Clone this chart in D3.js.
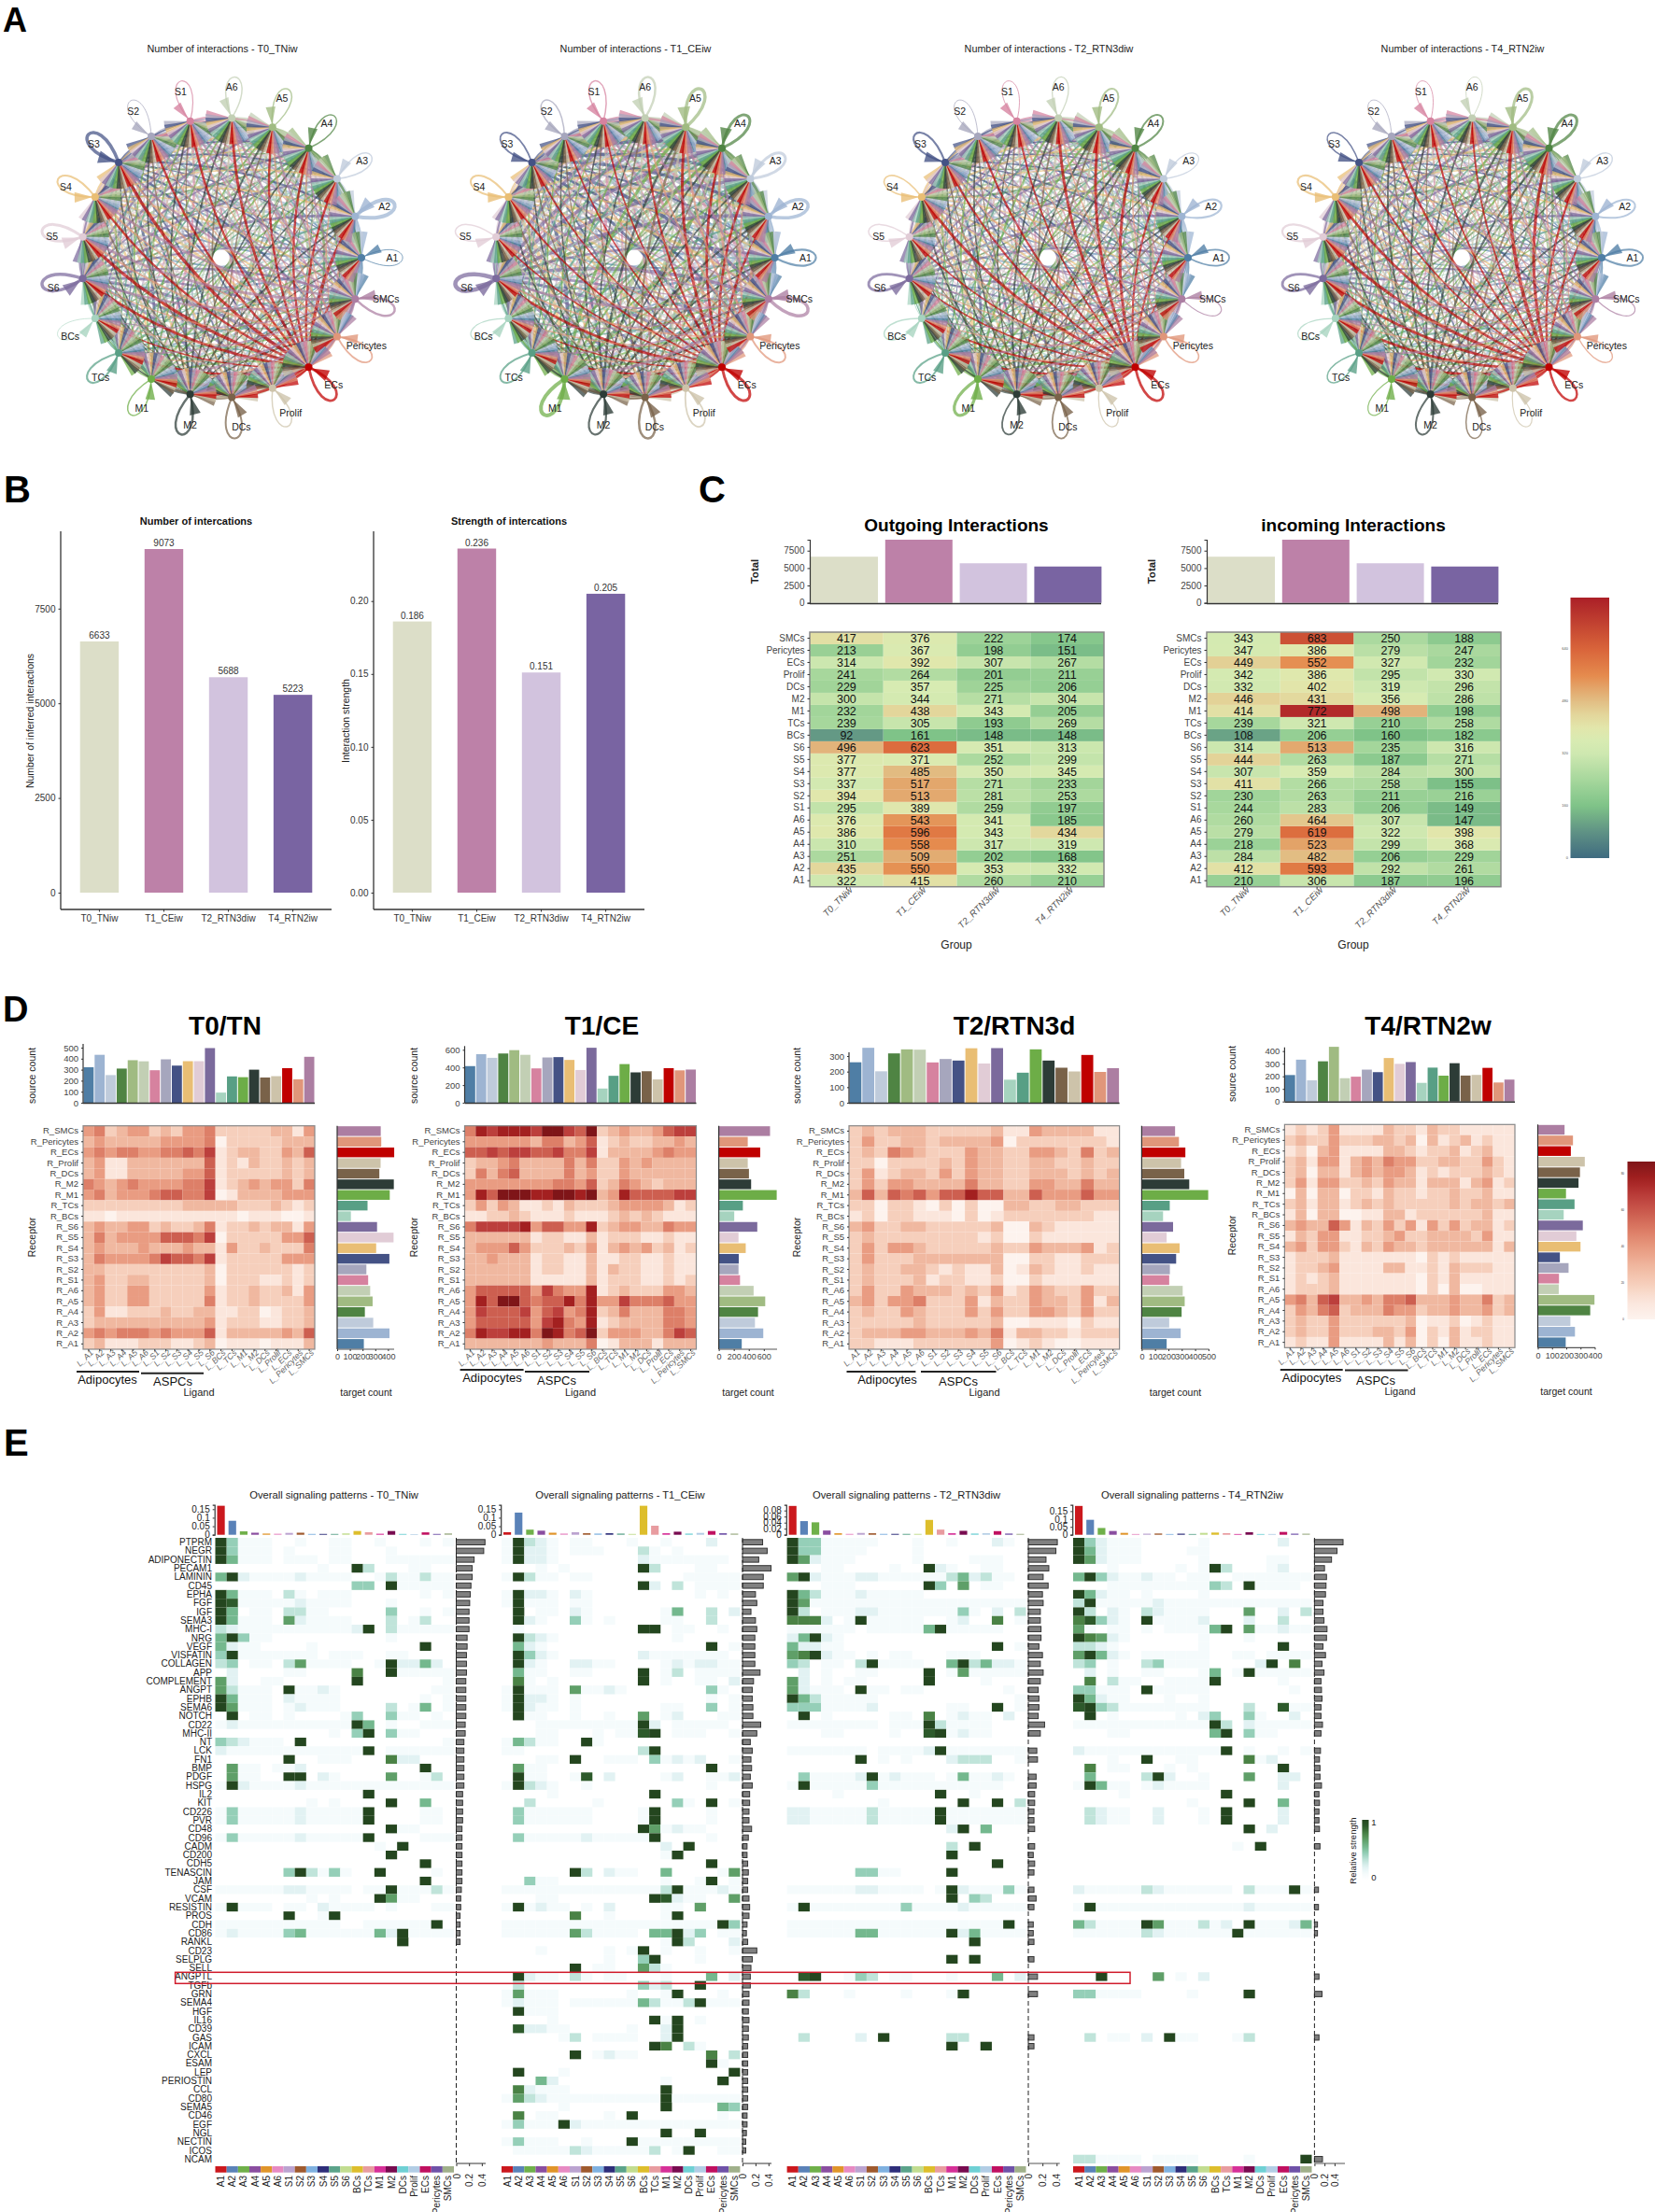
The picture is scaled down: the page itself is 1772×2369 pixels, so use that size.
<!DOCTYPE html>
<html lang="en">
<head>
<meta charset="UTF-8">
<title>Cell-cell communication overview</title>
<script src="https://d3js.org/d3.v7.min.js"></script>
<style>
  body { margin: 0; background: #fff; }
  text { font-family: "Liberation Sans", Arial, sans-serif; }
</style>
</head>
<body>
<script>
// ---------- data ----------
const groups = ["T0_TNiw", "T1_CEiw", "T2_RTN3diw", "T4_RTN2iw"];
const groupColors = ["#dcdec8", "#bd81a8", "#d2c3de", "#7964a2"];
const interactionCount = [6633, 9073, 5688, 5223];
const interactionStrength = [0.186, 0.236, 0.151, 0.205];

const cells = ["A1","A2","A3","A4","A5","A6","S1","S2","S3","S4","S5","S6","BCs","TCs","M1","M2","DCs","Prolif","ECs","Pericytes","SMCs"];
const cellColors = ["#4f7ea5","#9db4d2","#bfcbdb","#4f8443","#a0bb82","#c2cfb4","#d6829f","#a6a6bd","#445285","#e9be74","#e1ccd6","#7b6a9c","#a6d3bf","#589f85","#6dad47","#2d3c37","#796249","#cdc3aa","#c00000","#e0967a","#ac7ea2"];
const patternColors = ["#cb181d","#5a82b8","#6fb04a","#8a4ea0","#e0952a","#e78ac3","#bba3d0","#9f5a2e","#7fb1e0","#2e2e7a","#5ba38a","#c2dd90","#ddbe2c","#e89ca0","#d63098","#780b50","#6fd0d4","#b2cde5","#c01060","#6f52a8","#a0b08a"];

// outgoing / incoming totals, in the order of cells
const outgoingT0 = [322,435,251,310,386,376,295,394,337,377,377,496,92,239,232,300,229,241,314,213,417];
const outgoingT1 = [415,550,509,558,596,543,389,513,517,485,371,623,161,305,438,344,357,264,392,367,376];
const outgoingT2 = [260,353,202,317,343,341,259,281,271,350,252,351,148,193,343,271,225,201,307,198,222];
const outgoingT4 = [210,332,168,319,434,185,197,253,233,345,299,313,148,269,205,304,206,211,267,151,174];
const incomingT0 = [210,412,284,218,279,260,244,230,411,307,444,314,108,239,414,446,332,342,449,347,343];
const incomingT1 = [306,593,482,523,619,464,283,263,266,359,263,513,206,321,772,431,402,386,552,386,683];
const incomingT2 = [187,292,206,299,322,307,206,211,258,284,187,235,160,210,498,356,319,295,327,279,250];
const incomingT4 = [196,261,229,368,398,147,149,216,155,300,271,316,182,258,198,286,296,330,232,247,188];

// ligand x receptor heat levels (0-9). rows run R_SMCs .. R_A1, columns follow cells
const levelsT0 = [
 [4,5,2,3,4,4,2,3,2,4,4,5,2,2,2,2,2,3,3,1,4],[3,4,3,3,3,3,3,4,4,4,4,5,0,2,2,2,2,2,3,3,3],
 [4,5,4,5,5,4,4,5,5,6,5,7,1,2,3,3,2,2,4,3,6],[3,4,1,1,3,3,3,3,3,3,3,6,1,2,1,3,2,2,3,2,3],
 [3,4,1,1,3,3,3,3,3,4,4,6,1,2,2,2,2,2,3,2,3],[5,4,3,4,5,4,4,4,4,5,5,7,1,2,3,4,3,4,4,2,5],
 [4,5,3,4,4,4,5,6,6,5,5,7,0,1,3,3,3,3,4,4,4],[2,2,2,2,2,2,2,2,2,3,3,3,3,3,2,2,2,3,2,1,2],
 [1,1,0,1,1,1,1,1,1,1,1,1,1,1,0,1,1,1,0,0,1],[3,4,3,3,4,4,2,3,2,2,3,5,1,2,2,3,2,3,3,1,4],
 [3,5,3,4,4,4,4,6,6,6,5,7,0,2,2,2,2,2,4,4,6],[3,4,3,3,3,4,3,3,3,4,3,3,1,4,2,2,3,2,2,2,5],
 [3,5,4,4,4,4,5,7,6,6,5,7,1,2,2,2,2,2,4,4,4],[3,3,2,2,2,2,2,2,2,2,2,3,0,2,2,2,2,2,2,1,2],
 [3,4,2,2,3,3,2,2,2,2,2,3,0,2,2,2,1,1,2,1,2],[3,4,2,2,4,4,2,2,2,2,2,4,1,2,2,3,2,2,3,1,4],
 [3,4,2,2,4,4,2,2,2,2,2,5,1,2,2,3,2,2,2,2,4],[2,4,1,1,2,2,2,3,2,2,3,3,1,1,2,2,0,1,2,2,3],
 [2,3,3,3,3,3,3,3,3,3,3,4,1,2,2,2,1,1,2,2,3],[4,5,4,5,5,5,4,5,4,4,4,6,1,3,3,3,3,3,4,3,6],
 [2,3,1,1,1,2,2,2,1,1,2,3,0,1,1,1,0,1,1,1,3]];
const levelsT1 = [
 [5,8,7,8,8,8,7,9,9,7,6,9,2,3,4,3,3,4,6,7,7],[4,4,4,4,4,4,3,5,5,3,4,6,1,2,3,2,2,3,3,4,3],
 [6,6,7,6,7,7,6,6,7,5,5,7,1,3,3,3,3,4,5,4,4],[2,3,3,4,5,3,3,3,3,5,3,5,2,2,4,3,4,3,3,3,3],
 [2,5,3,5,6,3,3,3,3,5,3,4,2,2,4,3,3,3,3,3,3],[4,4,4,4,4,4,4,4,5,5,4,6,2,3,5,4,3,2,3,3,3],
 [4,8,6,9,9,9,8,8,9,9,8,9,3,4,8,6,6,6,6,7,7],[2,4,2,4,3,1,1,2,1,3,2,2,2,3,4,4,4,4,3,1,2],
 [1,1,2,2,3,2,1,1,1,2,1,1,1,2,3,2,3,2,1,1,1],[5,7,7,7,7,8,4,6,6,4,4,8,2,3,4,4,3,3,5,4,4],
 [3,3,3,3,3,3,1,2,2,1,1,3,1,2,2,2,1,1,2,1,1],[3,4,4,4,6,4,2,2,2,3,2,4,1,3,4,3,4,2,3,1,2],
 [3,3,4,3,3,3,1,2,2,1,1,3,1,1,2,2,1,1,2,1,1],[3,3,3,3,3,3,1,2,2,1,1,3,1,3,2,2,1,1,2,1,1],
 [3,3,3,3,3,3,1,1,1,1,1,3,1,2,2,2,1,1,2,1,2],[4,6,6,6,6,6,4,7,5,4,4,8,1,2,3,2,2,2,4,4,3],
 [4,8,6,9,9,6,5,6,6,8,5,8,4,4,7,5,5,5,6,4,4],[4,7,6,6,6,7,4,6,7,4,5,8,2,3,5,3,3,3,5,5,4],
 [4,6,6,6,6,6,4,7,8,5,4,8,1,2,3,3,3,3,5,5,4],[5,8,7,7,8,8,5,9,8,5,6,9,2,4,4,4,3,3,5,7,6],
 [3,3,3,3,3,3,3,4,3,3,3,5,0,1,3,3,3,1,3,3,3]];
const levelsT2 = [
 [2,3,2,3,3,3,2,2,2,2,2,3,1,1,4,3,3,3,3,1,1],[2,4,2,2,3,3,2,3,3,3,3,4,0,2,2,2,2,2,2,2,1],
 [2,3,2,5,4,3,2,2,2,4,3,3,2,2,4,4,3,2,5,2,3],[2,2,0,2,2,2,2,3,2,4,3,3,2,2,3,3,2,2,3,2,2],
 [2,4,1,2,3,3,2,4,2,4,3,3,2,2,3,3,3,2,3,2,3],[2,4,2,4,4,3,3,3,3,5,3,3,2,2,4,4,3,3,5,3,3],
 [3,6,3,6,5,6,4,6,6,8,6,6,3,3,6,4,4,4,6,4,4],[2,2,0,2,2,1,0,2,0,2,0,0,3,3,2,2,3,3,2,2,2],
 [1,2,0,2,2,1,1,1,0,2,0,1,2,2,2,2,2,2,2,1,1],[3,4,2,2,3,3,2,2,2,2,2,3,0,0,3,2,1,1,1,1,1],
 [2,3,2,2,2,2,2,2,2,2,1,2,0,0,2,1,1,1,1,1,1],[2,4,2,4,4,3,2,2,2,2,2,3,2,2,4,3,3,3,4,1,2],
 [2,4,2,2,2,3,3,3,3,3,3,3,0,0,2,2,1,1,2,2,2],[2,3,2,2,3,3,2,1,2,1,1,3,0,1,3,2,1,1,2,1,1],
 [2,3,2,2,2,3,1,2,2,1,1,2,0,0,2,1,1,1,1,1,1],[2,4,2,2,4,3,3,3,2,3,2,4,1,2,4,3,2,2,4,2,2],
 [3,4,2,4,4,5,2,2,2,4,1,3,2,2,4,3,3,2,4,1,3],[2,3,2,2,4,3,2,2,2,4,2,4,2,2,4,4,3,2,4,2,2],
 [2,2,2,2,2,3,2,2,2,2,2,3,0,0,1,1,1,0,2,1,1],[2,3,3,3,4,4,3,3,3,4,3,5,1,3,3,2,2,1,2,2,2],
 [2,2,1,1,1,2,2,2,2,2,2,4,0,1,2,1,0,0,1,1,1]];
const levelsT4 = [
 [1,2,1,2,4,1,1,1,1,3,2,2,1,3,2,2,1,1,1,1,1],[2,3,2,2,4,2,2,2,3,3,2,3,0,3,1,2,3,1,2,1,1],
 [1,2,0,3,4,1,1,1,1,3,3,2,1,2,2,3,1,2,3,1,1],[2,3,1,4,4,1,3,4,3,5,4,4,2,2,3,3,2,2,4,2,1],
 [2,3,0,3,3,1,3,4,3,4,4,3,1,2,1,2,2,2,3,2,1],[2,4,1,4,4,2,2,3,2,4,3,3,1,3,3,3,1,3,4,1,2],
 [0,3,0,3,3,0,2,2,1,3,2,2,1,2,2,3,2,2,3,1,1],[2,3,1,3,3,1,2,3,2,3,2,2,2,2,2,3,2,3,3,2,3],
 [1,3,0,3,3,0,0,1,1,3,3,1,2,2,2,2,2,2,3,1,1],[3,4,3,3,6,4,1,3,2,4,2,4,1,4,2,4,2,3,3,1,2],
 [1,3,2,4,4,1,1,2,2,3,4,2,2,3,3,3,3,2,4,1,1],[3,4,2,4,4,2,1,3,2,4,3,3,2,3,3,3,3,3,3,1,3],
 [1,2,2,2,3,1,1,1,1,1,1,1,0,2,1,2,1,1,1,1,1],[1,2,2,3,4,1,1,1,1,3,3,1,1,2,1,3,2,2,2,1,1],
 [1,2,1,2,3,1,1,1,1,1,1,1,0,2,1,3,1,1,1,1,1],[1,2,2,2,3,1,1,1,1,1,1,1,0,2,0,3,0,0,1,1,1],
 [4,5,3,6,7,3,3,4,3,5,5,6,3,3,3,4,3,3,5,2,3],[2,4,3,5,6,2,3,3,3,5,4,4,2,3,3,4,3,3,4,2,3],
 [2,3,2,2,4,2,2,2,2,2,2,3,0,1,1,2,0,1,2,1,1],[2,3,2,2,4,2,2,2,3,3,2,4,0,2,1,3,1,2,2,1,1],
 [1,2,1,1,4,1,1,1,1,3,1,3,0,2,0,3,1,1,2,1,1]];

// self loop widths and the weight of the red ECs edges in panel A
const loopWidthT0 = [1,4,1.5,1.5,1.5,1.5,1.2,1,3.5,2,3,3.5,.8,2.2,1.5,2.5,2,1.5,2.8,1.8,2.5];
const loopWidthT1 = [2.2,3.5,3,3,3.5,2.5,1.5,1.5,1.8,2,1.5,4.5,1.2,2,4,2.2,2.5,1.8,3,2,3.5];
const loopWidthT2 = [1.8,2.2,1.2,2,2,1.3,1,1,2.2,1.6,1.5,2.8,1.6,2,3.2,1.8,1.8,1.3,2.8,1.6,1.2];
const loopWidthT4 = [2,2,1.4,3,3,1,1,1,1.5,2.2,2.2,2.8,1.3,1.5,1.2,2,1.5,1.2,2.5,1.4,1.2];
const ecsEdgeBoost = [1.5, 1.05, 1.35, 1.45];

// panel E
const pathways = ["PTPRM","NEGR","ADIPONECTIN","PECAM1","LAMININ","CD45","EPHA","FGF","IGF","SEMA3","MHC-I","NRG","VEGF","VISFATIN","COLLAGEN","APP","COMPLEMENT","ANGPT","EPHB","SEMA6","NOTCH","CD22","MHC-II","NT","LCK","FN1","BMP","PDGF","HSPG","IL2","KIT","CD226","PVR","CD48","CD96","CADM","CD200","CDH5","TENASCIN","JAM","CSF","VCAM","RESISTIN","PROS","CDH","CD86","RANKL","CD23","SELPLG","SELL","ANGPTL","TGFb","GRN","SEMA4","HGF","IL16","CD39","GAS","ICAM","CXCL","ESAM","LEP","PERIOSTIN","CCL","CD80","SEMA5","CD46","EGF","NGL","NECTIN","ICOS","NCAM"];

// one string per pathway, one character per cell: "." is empty, 1-9 are tenths of relative strength
// groups: A1-A6 | S1-S6 | BCs TCs M1 | M2 | DCs Prolif ECs Pericytes SMCs
const signalT0 = [
 "94111. .1..11 ..1 . ..1.1","94111. 1...11 ... 1 .....","95111. 111.11 ... 1 11111","...... ...1.. 93. . .11..",
 "592111 121111 ..1 3 11311","...... ...... 44. 9 11111","95111. 31.111 ... . ..1.1","981111 121111 ... 1 .....",
 "95.11. 3311.. ... 4 ..1.1","95111. 621111 ... 3 .13..","321111 111111 29. 3 11111","59411. ...... ... 1 .....",
 "5211.. ..1... ... . ..9..","491111 111.11 1.. 1 1....","34.11. 361111 ..1 9 2252.",".2.... 11.... 7.. 9 11111",
 "62..11 ...... 9.. . ....1","63111. 91121. ... . ...11","95111. 21111. ... . ..1.1","96111. 12111. ... 3 .15.1",
 ".9.11. 1....1 4.. 4 11.1.","121111 111111 95. 1 ..111","...... ....1. 49. 4 11...","432111 .9.... ... . ....1",
 "211111 111111 19. 1 11111","...... 9..111 ... 7 22...",".611.1 12.... ... . ..9..",".611.. 99.21. ... 6 ..13.",
 "192111 121111 111 1 11111","...... ...... .9. . .....","...... ..1.1. ... 9 ..5..","141111 121111 19. . ..11.",
 "141111 121111 19. . ..11.","...... ...... ... 9 11...","141111 121111 19. . ..111","...... ...... ..1 . 9....",
 "...... ...... ... 9 .....","...... ...... ... . ..9..","...... 493141 ..9 . ...1.","...... ...... ... . ..9..",
 "111111 221111 .11 9 11131","...... ..1.1. ..9 6 11...","19111. 11.211 11. 1 ...11","...... 9..19. ... . .....",
 "111111 11111. .11 1 1119.","121111 451111 115 2 91111","...... ...... ... . 9....",
 "","","","","","","","","","","","","","","","","","","","","","","","",""];
const signalT1 = [
 "19321. 11...1 ..1 . ..2..","19221. 111... 31. 1 .....","19221. ...... 211 1 1111.","...1.1 ...... 93. . .11..",
 "19311. 11.... ... . 11111","...... ...... 92. 3 .1111","19221. 21.... ... . .1.1.","19111. 11.... ... . .....",
 ".9.11. 21.... ..1 5 ..3.2",".921.. 41.1.. ..1 1 ..3..",".1.... ...... 99. 1 1..1.",".9321. ...... ... 1 .....",
 ".521.. ...... ... . ..9.1",".9421. ...... 211 1 1111.",".921.. 2211.. ..1 2 12211",".511.. 11.... 9.1 3 .1111",
 ".71.1. ...... 9.1 . .11.2","19111. 61121. ... . ..41.","19221. 1..... ... . ..1.1","19211. 1..... ..1 1 ..4.1",
 ".911.. 1..1.. 6.1 2 ...11","...111 111111 92. 1 1111.","...11. ..1.11 89. 1 11..1","15311. .91... ... . .....",
 "11.... ...... 39. . .....","...11. 9..111 .41 2 12..1",".611.. ...... ... . ..9..",".911.. 18.2.. ..1 2 ..112",
 "19321. .1.... ... . ..1..","....1. ...... .9. . .....","..3... ..1... ... 4 1.9.1",".41111 11.... 19. . ..1..",
 ".41111 11.... 19. . ..1..","...... ...... 961 2 11...",".41111 121111 19. . ..1..","...... ...... ..2 . 9....",
 "...... ...... ..1 9 .....","...... ...... ... . ..9..","...... 93.211 ..5 . ...16","..411. ...... ..1 . .19.1",
 "111111 111111 113 9 11121","...11. ...... .98 2 11..6","191211 .1.2.. ..1 1 .6...","...... 7..1.. ..1 9 .....",
 "111111 111111 111 1 11194","111111 631111 .55 9 24.11","...... ...... ..1 9 3...2","...1.. ...1.1 9.1 . .1..1",
 "...... ...1.. 49. . .1...","...... 9.11.. 631 . .....",".9211. 31.11. ..1 . ..5.2",".3.... ...... 423 . .9...",
 "16111. .....1 ..1 9 ...1.","12111. 111111 531 1 39111",".9111. ...... ... . .....","....1. ...... .91 9 .1...",
 ".82211 .....1 ..2 9 .....",".....1 3.1111 ..2 9 .....","...... ...... .97 . 31...","...... 9.1211 ... . ..7.3",
 "...... ...... ... . ..91.",".9...1 ...... ... . ....9","...52. ...... ..1 . ...9.",".72111 ...... ..9 . .....",
 "163211 111111 119 1 11111",".....1 ...... ..9 . ...54",".7.11. ...1.9 ... . ...1.","141119 211111 111 1 11111",
 "...... ...... ..9 . .9...","14111. .1...9 111 1 11111",".11111 321111 13. 1 9..11",""];
const signalT2 = [
 "944111 11...1 ..1 . ..21.","944111 1....1 ... . .....","962111 .....1 ... . 111..","...11. ...1.. 921 . .11..",
 "692111 221111 113 5 2311.","...111 ...... 94. 6 .11..","953111 211111 ... . .....","961111 111111 111 1 11111",
 "93.111 221111 111 4 1.2.3","7772.1 911111 ..1 2 ..7.1","111111 .11111 591 1 111..","25921. ...... ... . .....",
 "52211. ...... ... . ..9.1","679211 .1.11. ..1 1 1....","43.11. 391111 ..5 9 35221",".2.1.. 11.... 9.1 6 11111",
 "62.1.1 1..... 9.. . .1...","62111. 911.11 ... . ...1.","953111 11.... ... . ....1","444111 12.... ..1 1 ..9.1",
 ".9.1.. ...11. 7.1 2 11.2.","111111 11.111 931 1 11...","...11. ...1.. 891 2 11...","",
 "111111 1.1111 291 1 11111","...... 9.1.1. ..2 3 33..1","",".41111 291211 1.1 5 1121.",
 "191111 141111 111 1 111..","....1. ...... .9. . 1....","...... ..1... ... 9 ..9.3","221111 131111 191 1 11111",
 "221111 131111 191 1 11111","...... ...... ..2 9 .5...","","...... ...... ..3 . 9....",
 "...... ...... ..9 . .....","...... ...... ... . ..9..","...... 4411.. ..9 . .....","",
 "111111 221111 .19 2 11141","...... ...... ..9 . 43...","191111 111141 111 2 11111","",
 "111111 111111 111 1 1119.","111111 551111 119 2 51111","...... ...... ... . 9....","",
 "...... ...... ..9 . 9....","",".89..1 43.11. ..1 . ..5.2","",
 "73...1 ....1. ..1 9 .....","","","","",".3.... 2.9... ..3 3 .....",
 "...... ...... ..9 . .9...","","","","","","","","","","","","",""];
const signalT4 = [
 "942111 .....1 ... . ..2..","952111 ....11 ... . .....","962111 .....1 ... . .11..","...1.. ...1.1 93. . .12..",
 "594211 211.11 ..1 1 11111","...111 111111 43. 9 1111.","95211. 1....1 ... . .....","391111 121111 111 1 11111",
 "93.21. 321111 ... 6 ..2.3","78421. 911112 ... 2 ..3..","61.11. 1.1111 59. 6 11211","97621. .....1 ... 1 .....",
 "3321.. .....1 ... . ..9..","69521. 111111 ..1 1 .1111","34.1.. 341111 ... . 29.7.",".2.1.. 11...1 5.1 9 11111",
 ".7.311 ..1111 9.. . ..1..","44111. 911111 ... . ...1.","95211. ..1..1 ... . .....","894311 111111 ... 3 ..811",
 ".9.1.. ...1.2 4.. 4 1..2.","111111 111111 93. 2 11111","...11. ...... 59. 4 11...","",
 "211111 111111 19. 1 ..1.1","...1.. 9..11. ... 7 12...",".7.11. ..1.1. ... . ..9..",".5.... 392..1 ... 6 ..22.",
 "19511. 121111 ... . ..2..","....1. ...... .9. . .....","...... ....1. ... 9 ..5..",".3211. .2...1 .9. . ..2..",
 ".3211. .2...1 .9. . ..2..","...... ...... ... 9 .2...","","...... ...... ..1 . 9....",
 "","","","","211111 321111 11. 3 11191","","191111 111111 111 2 11111","",
 "531111 961113 12. 9 11125","111111 321111 119 1 11111","","","","","..9... .6.1.2 ... . .....","",
 "441111 ....1. ... 9 .....","","","","",".3.11. 2.911. ..1 3 .....",
 "","","","","","","","","","","","","","331111 .1111. ... 1 ....9"];

const sideT0 = [.45,.43,.28,.25,.25,.23,.22,.21,.2,.2,.2,.17,.17,.16,.16,.16,.15,.15,.15,.15,.15,.14,.14,.12,.12,.12,.12,.12,.12,.1,.1,.1,.1,.09,.09,.09,.09,.09,.09,.09,.08,.07,.07,.06,.06,.06,.06,0,0,0,0,0,0,0,0,0,0,0,0,0,0,0,0,0,0,0,0,0,0,0,0,0];
const sideT1 = [.31,.38,.25,.44,.32,.32,.2,.22,.13,.2,.22,.19,.19,.19,.19,.27,.17,.15,.15,.16,.16,.28,.22,.12,.15,.13,.14,.12,.15,.11,.11,.1,.1,.14,.09,.07,.07,.08,.09,.08,.08,.1,.11,.1,.07,.06,.08,.22,.15,.13,.12,.12,.1,.1,.09,.1,.09,.09,.08,.08,.08,.08,.08,.08,.08,.08,.07,.07,.06,.05,.05,0];
const sideT2 = [.41,.39,.25,.29,.21,.28,.2,.21,.17,.17,.18,.18,.15,.2,.17,.21,.17,.14,.15,.15,.14,.23,.17,0,.12,.13,0,.11,.11,.09,.09,.08,.08,.09,0,.09,.07,.09,.08,0,.08,.11,.08,0,.07,.07,.08,0,.08,0,.13,0,.13,0,0,0,0,.08,.08,0,0,0,0,0,0,0,0,0,0,0,0,0];
const sideT4 = [.57,.45,.34,.2,.24,.23,.22,.17,.17,.19,.25,.24,.17,.22,.15,.19,.13,.14,.15,.13,.13,.16,.13,0,.12,.1,.11,.11,.14,.09,.1,.09,.09,.1,0,.11,0,0,0,0,.08,0,.08,0,.06,.06,0,0,0,0,.09,0,.15,0,0,0,0,.09,0,0,0,0,0,0,0,0,0,0,0,0,0,.16];

const topT0 = [.17,.082,.02,.012,.007,.006,.011,.012,.005,.005,.005,.008,.022,.015,.006,.022,.005,.004,.014,.005,.008];
const topT1 = [.015,.13,.03,.024,.012,.007,.015,.009,.007,.009,.007,.005,.17,.053,.009,.018,.007,.011,.022,.009,.007];
const topT2 = [.095,.045,.041,.014,.005,.003,.006,.005,.003,.003,.003,.003,.049,.017,.005,.013,.004,.005,.012,.004,.003];
const topT4 = [.183,.095,.043,.024,.012,.005,.007,.008,.005,.007,.005,.012,.014,.01,.005,.016,.005,.005,.018,.007,.007];

// ---------- page ----------
const svg = d3.select("body").append("svg").attr("width", 1772).attr("height", 2369);
const defs = svg.append("defs");

function label(parent, x, y, str, o = {}) {
  const t = parent.append("text")
    .attr("x", x).attr("y", y)
    .attr("dy", "0.35em")
    .attr("text-anchor", o.anchor || "middle")
    .attr("font-size", o.size || 10)
    .attr("fill", o.fill || "#222")
    .text(str);
  if (o.weight) t.attr("font-weight", o.weight);
  if (o.italic) t.attr("font-style", "italic");
  if (o.rotate !== undefined) t.attr("transform", `rotate(${o.rotate} ${x} ${y})`);
  return t;
}

function styleAxis(g, size = 9.5) {
  g.selectAll("path").attr("stroke", "#333").attr("stroke-width", 1.2);
  g.selectAll("line").attr("stroke", "#333");
  g.selectAll("text").attr("font-size", size).attr("fill", "#444")
    .attr("font-family", '"Liberation Sans", Arial, sans-serif');
}

[["A", 3, 21, 36], ["B", 4, 524, 40], ["C", 748, 524, 40], ["D", 3, 1081, 38], ["E", 4, 1545, 40]].forEach(d =>
  label(svg, d[1], d[2], d[0], { anchor: "start", size: d[3], weight: "bold", fill: "#000" }));

// ---------- A: circle plots ----------
const levelsAll = [levelsT0, levelsT1, levelsT2, levelsT4];
const loopWidths = [loopWidthT0, loopWidthT1, loopWidthT2, loopWidthT4];
const chordCenters = [237, 679.5, 1122, 1565];

function drawCircle(k) {
  const cx = chordCenters[k], cy = 276, R = 150;
  const g = svg.append("g");
  const n = cells.length;
  const angle = i => i * 2 * Math.PI / n;
  const pos = i => [cx + R * Math.cos(angle(i)), cy - R * Math.sin(angle(i))];
  label(g, cx + 1, 52, "Number of interactions - " + groups[k], { size: 10.8 });

  const edges = [];
  cells.forEach((src, j) => cells.forEach((tgt, i) => {
    if (i === j) return;
    const level = levelsAll[k][n - 1 - i][j];
    const [x0, y0] = pos(j), [x1, y1] = pos(i);
    const c = [(x0 + x1) / 2 + 0.14 * (y1 - y0), (y0 + y1) / 2 - 0.14 * (x1 - x0)];
    const w = (1 + level * 0.3) * (src === "ECs" ? ecsEdgeBoost[k] : 1);
    edges.push({ j, i, p0: [x0, y0], p1: [x1, y1], c, w });
  }));

  g.append("g").selectAll("path").data(edges).join("path")
    .attr("d", d => `M${d.p0}Q${d.c} ${d.p1}`)
    .attr("fill", "none")
    .attr("stroke", d => cellColors[d.j])
    .attr("stroke-width", d => d.w)
    .attr("stroke-opacity", 0.66);

  // arrow fans around every node
  const wedge = (p, ux, uy, start, len, half) => {
    const bx = p[0] + ux * len, by = p[1] + uy * len;
    return `M${p[0] + ux * start},${p[1] + uy * start}L${bx - uy * half},${by + ux * half}L${bx + uy * half},${by - ux * half}Z`;
  };
  g.append("g").selectAll("path").data(edges).join("path")
    .attr("d", d => {
      const dx = d.c[0] - d.p1[0], dy = d.c[1] - d.p1[1], l = Math.hypot(dx, dy);
      return wedge(d.p1, dx / l, dy / l, 1, 28, 2.6 + d.w * 0.3);
    })
    .attr("fill", d => cellColors[d.j])
    .attr("fill-opacity", 0.72);

  // self loops
  const tilt = 27 * Math.PI / 180, reach = 66;
  const ray = (i, a, r) => [pos(i)[0] + r * Math.cos(angle(i) + a), pos(i)[1] - r * Math.sin(angle(i) + a)];
  g.append("g").selectAll("path").data(cells).join("path")
    .attr("d", (d, i) => `M${pos(i)}C${ray(i, -tilt, reach)} ${ray(i, tilt, reach)} ${pos(i)}`)
    .attr("fill", "none")
    .attr("stroke", (d, i) => cellColors[i])
    .attr("stroke-width", (d, i) => loopWidths[k][i])
    .attr("stroke-opacity", 0.72);
  g.append("g").selectAll("path").data(cells).join("path")
    .attr("d", (d, i) => {
      const a = angle(i) + tilt;
      return wedge(pos(i), Math.cos(a), -Math.sin(a), 3, 22, 4 + loopWidths[k][i] * 0.8);
    })
    .attr("fill", (d, i) => cellColors[i])
    .attr("fill-opacity", 0.78);

  g.append("g").selectAll("circle").data(cells).join("circle")
    .attr("cx", (d, i) => pos(i)[0]).attr("cy", (d, i) => pos(i)[1])
    .attr("r", 4)
    .attr("fill", (d, i) => cellColors[i]);

  cells.forEach((d, i) => {
    const a = i * 2 * Math.PI / (n - 1);
    label(g, pos(i)[0] + 33 * Math.cos(a), pos(i)[1] - 33 * Math.sin(a), d, { size: 10.5 });
  });
}
groups.forEach((d, k) => drawCircle(k));

// ---------- B: bars ----------
function drawTotals(axisX, title, values, domainMax, pxTop, tickVals, fmt, yTitle, yTitleX, valueFmt) {
  const g = svg.append("g");
  const x = d3.scaleBand().domain(groups).range([axisX, axisX + 290]).paddingInner(0.4).paddingOuter(0.3);
  const y = d3.scaleLinear().domain([0, domainMax]).range([956, pxTop]);
  g.selectAll("rect").data(values).join("rect")
    .attr("x", (d, i) => x(groups[i])).attr("width", x.bandwidth())
    .attr("y", d => y(d)).attr("height", d => 956 - y(d))
    .attr("fill", (d, i) => groupColors[i]);
  g.selectAll(".val").data(values).join("text").attr("class", "val")
    .attr("x", (d, i) => x(groups[i]) + x.bandwidth() / 2)
    .attr("y", d => y(d) - 3)
    .attr("text-anchor", "middle").attr("font-size", 10).attr("fill", "#222")
    .text(valueFmt);
  g.append("g").attr("transform", `translate(${axisX},0)`)
    .call(d3.axisLeft(y).tickValues(tickVals).tickFormat(fmt).tickSize(2.5))
    .call(a => a.select("path").remove());
  g.selectAll("g text").attr("font-size", 10).attr("fill", "#333");
  g.selectAll("g line").attr("stroke", "#333");
  g.append("line").attr("x1", axisX).attr("x2", axisX).attr("y1", 569).attr("y2", 974).attr("stroke", "#333").attr("stroke-width", 1.3);
  g.append("line").attr("x1", axisX).attr("x2", axisX + 290).attr("y1", 974).attr("y2", 974).attr("stroke", "#333").attr("stroke-width", 1.3);
  const xa = g.append("g").attr("transform", "translate(0,974)").call(d3.axisBottom(x).tickSize(2.5));
  xa.select("path").remove();
  xa.selectAll("text").attr("font-size", 10).attr("fill", "#333");
  xa.selectAll("line").attr("stroke", "#333");
  label(g, axisX + 145, 558, title, { size: 11, weight: "bold", fill: "#111" });
  label(g, yTitleX, 772, yTitle, { size: 10.5, rotate: -90 });
}
drawTotals(65, "Number of intercations", interactionCount, 9073, 588, [0, 2500, 5000, 7500], d3.format("d"),
  "Number of inferred interactions", 32, d => d);
drawTotals(400, "Strength of intercations", interactionStrength, 0.236, 587.5, [0, .05, .1, .15, .2], d3.format(".2f"),
  "Interaction strength", 370, d => d3.format(".3f")(d));

// ---------- C: outgoing / incoming ----------
const rowCells = cells.slice().reverse();
const outgoingAll = [outgoingT0, outgoingT1, outgoingT2, outgoingT4];
const incomingAll = [incomingT0, incomingT1, incomingT2, incomingT4];
const totalColor = d3.scaleLinear()
  .domain([0, 80, 160, 240, 320, 360, 400, 440, 500, 560, 640, 772])
  .range(["#3f6b80", "#5f9285", "#7fc388", "#a6d79c", "#cfe8b0", "#d8ebb2", "#e2e6ab", "#e3d59a", "#e2b279", "#e58a4c", "#d9643a", "#b22a2a"]);

function drawTotalsHeat(x0, title, table) {
  const g = svg.append("g");
  label(g, x0 + 157, 562, title, { size: 19, weight: "bold", fill: "#000" });
  const yBar = d3.scaleLinear().domain([0, 9073]).range([645.7, 578]);
  g.selectAll(".bar").data(interactionCount).join("rect").attr("class", "bar")
    .attr("x", (d, i) => x0 + 1 + i * 79.8).attr("width", 72)
    .attr("y", d => yBar(d)).attr("height", d => 645.7 - yBar(d))
    .attr("fill", (d, i) => groupColors[i]);
  const ya = g.append("g").attr("transform", `translate(${x0},0)`)
    .call(d3.axisLeft(yBar).tickValues([0, 2500, 5000, 7500]).tickFormat(d3.format("d")).tickSize(2.5));
  styleAxis(ya, 10);
  g.append("line").attr("x1", x0).attr("x2", x0 + 312).attr("y1", 646.5).attr("y2", 646.5).attr("stroke", "#333").attr("stroke-width", 1.5);
  label(g, x0 - 59, 612, "Total", { size: 11.5, weight: "bold", rotate: -90 });

  const x = d3.scaleBand().domain(groups).range([x0, x0 + 315]);
  const y = d3.scaleBand().domain(rowCells).range([677, 949.7]);
  const data = [];
  groups.forEach((gr, c) => cells.forEach((ce, r) => data.push({ gr, ce, v: table[c][r] })));
  g.append("g").selectAll("rect").data(data).join("rect")
    .attr("x", d => x(d.gr)).attr("y", d => y(d.ce))
    .attr("width", x.bandwidth()).attr("height", y.bandwidth())
    .attr("fill", d => totalColor(d.v));
  g.append("g").selectAll("text").data(data).join("text")
    .attr("x", d => x(d.gr) + x.bandwidth() / 2).attr("y", d => y(d.ce) + y.bandwidth() / 2)
    .attr("dy", "0.35em").attr("text-anchor", "middle").attr("font-size", 12.5).attr("fill", "#111")
    .text(d => d.v);
  g.append("rect").attr("x", x0).attr("y", 677).attr("width", 315).attr("height", 272.7)
    .attr("fill", "none").attr("stroke", "#888").attr("stroke-width", 1.5);
  const yl = g.append("g").attr("transform", `translate(${x0},0)`).call(d3.axisLeft(y).tickSize(2.5));
  yl.select("path").remove();
  styleAxis(yl, 10);
  const xl = g.append("g").attr("transform", "translate(0,949.7)").call(d3.axisBottom(x).tickSize(3));
  xl.select("path").remove();
  styleAxis(xl, 10);
  xl.selectAll("text").attr("text-anchor", "end").attr("font-style", "italic")
    .attr("dy", 0).attr("y", 8).attr("x", 2).attr("transform", "rotate(-45)").attr("fill", "#555");
  label(g, x0 + 157, 1012, "Group", { size: 12 });
}
drawTotalsHeat(867, "Outgoing Interactions", outgoingAll);
drawTotalsHeat(1292, "incoming Interactions", incomingAll);

function gradient(id, scale, lo, hi) {
  const lg = defs.append("linearGradient").attr("id", id).attr("x1", 0).attr("x2", 0).attr("y1", 1).attr("y2", 0);
  d3.range(0, 1.0001, 0.05).forEach(t =>
    lg.append("stop").attr("offset", t).attr("stop-color", scale(lo + t * (hi - lo))));
}
gradient("totalGrad", totalColor, 0, 797);
svg.append("rect").attr("x", 1681.5).attr("y", 640).attr("width", 41.5).attr("height", 279).attr("fill", "url(#totalGrad)");
const totalBarY = d3.scaleLinear().domain([0, 797]).range([919, 640]);
[0, 160, 320, 480, 640].forEach(v => label(svg, 1679, totalBarY(v), v, { anchor: "end", size: 4, fill: "#555" }));

// ---------- D: ligand / receptor heatmaps ----------
const heatColor = d3.scaleLinear().domain(d3.range(10))
  .range(["#fdf3ee", "#fbe6dc", "#f6cfbc", "#f0b8a0", "#e99c82", "#dd7f68", "#cd5f50", "#bc3f3c", "#a32020", "#7f1518"]);

const dPanels = [
  { title: "T0/TN", cx: 241, x0: 89, x1: 337, top: 1205.7, bot: 1445, base: 1181, srcMax: 500, srcPx: 59, srcTicks: [0,100,200,300,400,500],
    rx: 361, tgtPx: 54.4, tgtMax: 400, tgtEnd: 422, tgtTicks: [0,100,200,300,400], labX: 34, out: outgoingT0, inc: incomingT0, lev: levelsT0,
    ad: [82,149,1469,115,1477], as: [151,218,1470.7,185,1479], lig: 213, tc: 392, ligY: 1491, srcY: 1152, recY: 1325 },
  { title: "T1/CE", cx: 644.5, x0: 497.5, x1: 745.5, top: 1205.7, bot: 1445, base: 1181, srcMax: 600, srcPx: 56.7, srcTicks: [0,200,400,600],
    rx: 769.6, tgtPx: 48.2, tgtMax: 600, tgtEnd: 832, tgtTicks: [0,200,400,600], labX: 443, out: outgoingT1, inc: incomingT1, lev: levelsT1,
    ad: [492.6,560.6,1467,527,1475], as: [562,631,1469,596,1478], lig: 621.5, tc: 801, ligY: 1491, srcY: 1152, recY: 1325 },
  { title: "T2/RTN3d", cx: 1086, x0: 909, x1: 1198.6, top: 1205.7, bot: 1445, base: 1181, srcMax: 300, srcPx: 50, srcTicks: [0,100,200,300],
    rx: 1222.4, tgtPx: 71.5, tgtMax: 500, tgtEnd: 1294.6, tgtTicks: [0,100,200,300,400,500], labX: 853, out: outgoingT2, inc: incomingT2, lev: levelsT2,
    ad: [906.5,980.4,1469,950,1477], as: [986,1066.5,1469,1026,1479], lig: 1054, tc: 1258.5, ligY: 1491, srcY: 1152, recY: 1325 },
  { title: "T4/RTN2w", cx: 1529, x0: 1375.4, x1: 1622, top: 1204.3, bot: 1443.3, base: 1179.7, srcMax: 400, srcPx: 54, srcTicks: [0,100,200,300,400],
    rx: 1646.5, tgtPx: 61, tgtMax: 400, tgtEnd: 1708, tgtTicks: [0,100,200,300,400], labX: 1319.6, out: outgoingT4, inc: incomingT4, lev: levelsT4,
    ad: [1370.8,1437.7,1467,1404.5,1475], as: [1440,1507.5,1467.5,1473,1478], lig: 1499, tc: 1677, ligY: 1490, srcY: 1150, recY: 1323 }
];

function drawLigandPanel(p) {
  const g = svg.append("g");
  label(g, p.cx, 1098, p.title, { size: 28, weight: "bold", fill: "#000" });
  const x = d3.scaleBand().domain(cells).range([p.x0, p.x1]);
  const y = d3.scaleBand().domain(rowCells).range([p.top, p.bot]);

  // source count bars
  const ySrc = d3.scaleLinear().domain([0, p.srcMax]).range([p.base, p.base - p.srcPx]);
  g.append("g").selectAll("rect").data(p.out).join("rect")
    .attr("x", (d, i) => x(cells[i]) + 0.5).attr("width", x.bandwidth() - 1)
    .attr("y", d => ySrc(d)).attr("height", d => p.base - ySrc(d))
    .attr("fill", (d, i) => cellColors[i]);
  const sa = g.append("g").attr("transform", `translate(${p.x0},0)`)
    .call(d3.axisLeft(ySrc).tickValues(p.srcTicks).tickFormat(d3.format("d")).tickSize(2));
  styleAxis(sa, 9.5);
  sa.select("path").attr("d", `M0,${p.base}V${p.base - p.srcPx - 4}`);
  g.append("line").attr("x1", p.x0).attr("x2", p.x1).attr("y1", p.base + .5).attr("y2", p.base + .5).attr("stroke", "#333").attr("stroke-width", 1.5);
  label(g, p.labX, p.srcY, "source count", { size: 10.5, rotate: -90 });

  // heat cells
  const cellsData = [];
  rowCells.forEach((r, ri) => cells.forEach((c, ci) => cellsData.push({ r, c, v: p.lev[ri][ci] })));
  g.append("g").selectAll("rect").data(cellsData).join("rect")
    .attr("x", d => x(d.c)).attr("y", d => y(d.r))
    .attr("width", x.bandwidth()).attr("height", y.bandwidth())
    .attr("fill", d => heatColor(d.v));
  g.append("rect").attr("x", p.x0).attr("y", p.top).attr("width", p.x1 - p.x0).attr("height", p.bot - p.top)
    .attr("fill", "none").attr("stroke", "#888").attr("stroke-width", 1.2);
  const yl = g.append("g").attr("transform", `translate(${p.x0},0)`)
    .call(d3.axisLeft(y).tickSize(2).tickFormat(d => "R_" + d));
  yl.select("path").remove();
  styleAxis(yl, 9.5);
  const xl = g.append("g").attr("transform", `translate(0,${p.bot})`)
    .call(d3.axisBottom(x).tickSize(2).tickFormat(d => "L_" + d));
  xl.select("path").remove();
  styleAxis(xl, 9);
  xl.selectAll("text").attr("text-anchor", "end").attr("font-style", "italic")
    .attr("dy", 0).attr("y", 7).attr("x", 1).attr("transform", "rotate(-45)").attr("fill", "#666");
  label(g, p.labX, p.recY, "Receptor", { size: 10.5, rotate: -90 });

  // target count bars
  const xTgt = d3.scaleLinear().domain([0, p.tgtMax]).range([p.rx, p.rx + p.tgtPx]);
  g.append("g").selectAll("rect").data(p.inc).join("rect")
    .attr("x", p.rx).attr("y", (d, i) => y(cells[i]) + 0.5)
    .attr("width", d => xTgt(d) - p.rx).attr("height", y.bandwidth() - 1)
    .attr("fill", (d, i) => cellColors[i]);
  const ta = g.append("g").attr("transform", `translate(0,${p.bot})`)
    .call(d3.axisBottom(xTgt).tickValues(p.tgtTicks).tickFormat(d3.format("d")).tickSize(2));
  styleAxis(ta, 9);
  ta.select("path").attr("d", `M${p.rx},0H${p.tgtEnd}`).attr("stroke", "#555");
  g.append("line").attr("x1", p.rx).attr("x2", p.rx).attr("y1", p.top).attr("y2", p.bot).attr("stroke", "#333").attr("stroke-width", 1.2);
  label(g, p.tc, p.ligY, "target count", { size: 10.5 });
  label(g, p.lig, p.ligY, "Ligand", { size: 11 });

  // group brackets
  [[p.ad, "Adipocytes"], [p.as, "ASPCs"]].forEach(b => {
    g.append("line").attr("x1", b[0][0]).attr("x2", b[0][1]).attr("y1", b[0][2]).attr("y2", b[0][2]).attr("stroke", "#222").attr("stroke-width", 2);
    label(g, b[0][3], b[0][4], b[1], { size: 13, fill: "#111" });
  });
}
dPanels.forEach(drawLigandPanel);

gradient("heatGrad", heatColor, 0, 9);
svg.append("rect").attr("x", 1742.5).attr("y", 1244).attr("width", 29.5).attr("height", 169).attr("fill", "url(#heatGrad)");
const heatBarY = d3.scaleLinear().domain([0, 86.5]).range([1412.7, 1244]);
[0, 20, 40, 60, 80].forEach(v => label(svg, 1739, heatBarY(v), v, { anchor: "end", size: 3, fill: "#333" }));

// ---------- E: signaling patterns ----------
const strengthColor = d3.scaleLinear()
  .domain([0, 1, 2, 3, 4, 5, 6, 7, 8, 9].map(d => d / 9))
  .range(["#ffffff", "#f5fbfc", "#e2f2f3", "#c0e4da", "#95cfb8", "#74b88e", "#5f9f68", "#4a8245", "#2d5a2b", "#24461f"]);

const ePanels = [
  { name: "T0_TNiw", cx: 357.6, x0: 230.5, x1: 486, dash: 488.5, perUnit: 68.4, axisEnd: 520, topPx: 182.7, topTicks: [0,.05,.1,.15], top: topT0, sig: signalT0, side: sideT0, rowLabels: true },
  { name: "T1_CEiw", cx: 664, x0: 537, x1: 792.4, dash: 795, perUnit: 69.5, axisEnd: 826, topPx: 182.7, topTicks: [0,.05,.1,.15], top: topT1, sig: signalT1, side: sideT1 },
  { name: "T2_RTN3diw", cx: 970.6, x0: 842.6, x1: 1098.5, dash: 1101, perUnit: 75.8, axisEnd: 1134.7, topPx: 325, topTicks: [0,.02,.04,.06,.08], top: topT2, sig: signalT2, side: sideT2 },
  { name: "T4_RTN2iw", cx: 1276.5, x0: 1149, x1: 1404.5, dash: 1407.4, perUnit: 53.7, axisEnd: 1440, topPx: 168.7, topTicks: [0,.05,.1,.15], top: topT4, sig: signalT4, side: sideT4 }
];
const eTop = 1647, eBot = 2317, eBase = 1643.7;

function drawPatterns(p) {
  const g = svg.append("g");
  label(g, p.cx, 1601, "Overall signaling patterns - " + p.name, { size: 11.2 });
  const x = d3.scaleBand().domain(cells).range([p.x0, p.x1]);
  const y = d3.scaleBand().domain(pathways).range([eTop, eBot]);

  // top strength bars
  const yTop = d3.scaleLinear().domain([0, 32 / p.topPx]).range([eBase, eBase - 32]);
  g.append("g").selectAll("rect").data(p.top).join("rect")
    .attr("x", (d, i) => x(cells[i]) + 2).attr("width", x.bandwidth() - 4)
    .attr("y", d => yTop(d)).attr("height", d => eBase - yTop(d))
    .attr("fill", (d, i) => patternColors[i]);
  const ta = g.append("g").attr("transform", `translate(${p.x0 - 0.8},0)`)
    .call(d3.axisLeft(yTop).tickValues(p.topTicks).tickFormat(d => d).tickSize(2));
  styleAxis(ta, 10);
  ta.selectAll("text").attr("fill", "#222");

  // heat cells
  const data = [];
  pathways.forEach((path, r) => {
    const row = p.sig[r].replace(/ /g, "").padEnd(cells.length, ".");
    cells.forEach((c, ci) => { if (row[ci] !== ".") data.push({ path, c, v: +row[ci] / 9 }); });
  });
  g.append("g").selectAll("rect").data(data).join("rect")
    .attr("x", d => x(d.c)).attr("y", d => y(d.path))
    .attr("width", x.bandwidth()).attr("height", y.bandwidth())
    .attr("fill", d => strengthColor(d.v));

  if (p.rowLabels) {
    g.append("g").selectAll("text").data(pathways).join("text")
      .attr("x", p.x0 - 3.5).attr("y", d => y(d) + y.bandwidth() / 2)
      .attr("dy", "0.35em").attr("text-anchor", "end").attr("font-size", 10).attr("fill", "#222")
      .text(d => d);
  }

  // side bars
  const xSide = d3.scaleLinear().domain([0, 0.4]).range([p.dash, p.dash + 0.4 * p.perUnit]);
  g.append("g").selectAll("rect").data(p.side.map((v, i) => ({ v, i })).filter(d => d.v > 0)).join("rect")
    .attr("x", p.dash).attr("y", d => y(pathways[d.i]) + 1.8)
    .attr("width", d => xSide(d.v) - p.dash).attr("height", y.bandwidth() - 3.6)
    .attr("fill", "#808080").attr("stroke", "#333").attr("stroke-width", 1);
  g.append("line").attr("x1", p.dash).attr("x2", p.dash).attr("y1", eTop).attr("y2", eBot)
    .attr("stroke", "#222").attr("stroke-dasharray", "5,3");
  const sa = g.append("g").attr("transform", `translate(0,${eBot})`)
    .call(d3.axisBottom(xSide).tickValues([0, .2, .4]).tickFormat(d => d).tickSize(3));
  styleAxis(sa, 10);
  sa.select("path").attr("d", `M${p.dash},0H${p.axisEnd}`).attr("stroke", "#555");
  sa.selectAll("text").attr("text-anchor", "end").attr("transform", "rotate(-90)")
    .attr("y", 0).attr("dy", "0.35em").attr("x", -11).attr("fill", "#222");

  // colour strip and column names
  g.append("g").selectAll("rect.strip").data(cells).join("rect").attr("class", "strip")
    .attr("x", d => x(d)).attr("y", 2320).attr("width", x.bandwidth()).attr("height", 6.7)
    .attr("fill", (d, i) => patternColors[i]);
  g.append("g").selectAll("text").data(cells).join("text")
    .attr("transform", d => `translate(${x(d) + x.bandwidth() / 2},2330) rotate(-90)`)
    .attr("dy", "0.35em").attr("text-anchor", "end").attr("font-size", 10).attr("fill", "#222")
    .text(d => d);
}
ePanels.forEach(drawPatterns);

svg.append("rect").attr("x", 187.6).attr("y", 2112.3).attr("width", 1022.4).attr("height", 12)
  .attr("fill", "none").attr("stroke", "#d01c2c").attr("stroke-width", 1.5);

gradient("strengthGrad", strengthColor, 0, 1);
svg.append("rect").attr("x", 1458.4).attr("y", 1949).attr("width", 7.1).attr("height", 65).attr("fill", "url(#strengthGrad)");
label(svg, 1448.7, 1982, "Relative strength", { size: 9.5, rotate: -90 });
label(svg, 1471, 1952, "1", { size: 9.5 });
label(svg, 1471, 2011, "0", { size: 9.5 });
</script>
</body>
</html>
